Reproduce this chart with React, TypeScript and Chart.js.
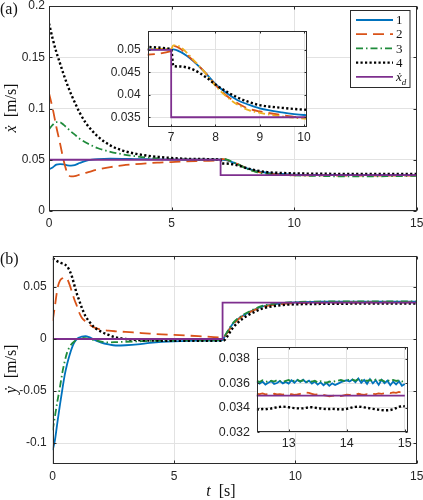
import React, { useEffect, useRef } from 'react';
import { Chart, registerables } from 'chart.js';

Chart.register(...registerables);

// ---------------- DATA ----------------
const seriesLabels = ['1', '2', '3', '4', 'ẋ_d'];

// (a) x-velocity
const tA = [0, 0.15, 0.3, 0.45, 0.6, 0.75, 0.9, 1.05, 1.25, 1.5, 1.75, 2, 2.5, 3, 3.5, 4, 4.5, 5, 6, 7, 7.05, 7.2, 7.35, 7.5, 7.65, 7.8, 8, 8.25, 8.5, 8.75, 9, 9.5, 10, 11, 12, 13, 14, 15];
const xd1 = [0.0407, 0.0425, 0.0452, 0.0458, 0.0455, 0.0446, 0.0443, 0.0447, 0.0468, 0.0490, 0.0502, 0.0507, 0.0510, 0.0509, 0.0507, 0.0505, 0.0503, 0.0502, 0.0501, 0.0501, 0.0501, 0.0496, 0.0487, 0.0475, 0.0461, 0.0446, 0.0424, 0.0404, 0.0388, 0.0378, 0.0370, 0.0361, 0.0355, 0.0352, 0.0351, 0.0350, 0.0350, 0.0349];
const xd2 = [0.1150, 0.1000, 0.0820, 0.0660, 0.0490, 0.0370, 0.0338, 0.0340, 0.0355, 0.0372, 0.0390, 0.0405, 0.0428, 0.0445, 0.0457, 0.0466, 0.0472, 0.0477, 0.0488, 0.0497, 0.0509, 0.0503, 0.0490, 0.0476, 0.0462, 0.0446, 0.0422, 0.0398, 0.0381, 0.0369, 0.0363, 0.0355, 0.0349, 0.0347, 0.0346, 0.0346, 0.0346, 0.0346];
const xd3 = [0.0797, 0.0840, 0.0868, 0.0866, 0.0840, 0.0808, 0.0775, 0.0745, 0.0705, 0.0668, 0.0638, 0.0612, 0.0578, 0.0553, 0.0535, 0.0521, 0.0512, 0.0506, 0.0502, 0.0502, 0.0510, 0.0507, 0.0494, 0.0478, 0.0462, 0.0445, 0.0420, 0.0396, 0.0378, 0.0366, 0.0360, 0.0352, 0.0347, 0.0342, 0.0338, 0.0338, 0.0340, 0.0343];
const xd4 = [0.1830, 0.1680, 0.1550, 0.1440, 0.1330, 0.1230, 0.1140, 0.1060, 0.0960, 0.0860, 0.0785, 0.0725, 0.0640, 0.0590, 0.0560, 0.0540, 0.0527, 0.0517, 0.0507, 0.0502, 0.0464, 0.0463, 0.0461, 0.0456, 0.0448, 0.0438, 0.0423, 0.0407, 0.0394, 0.0384, 0.0377, 0.0371, 0.0367, 0.0364, 0.0362, 0.0362, 0.0361, 0.0361];
const xRefT = [0, 7, 7, 15];
const xRefV = [0.05, 0.05, 0.035, 0.035];

// (b) y-velocity
const tB = [0, 0.1, 0.2, 0.3, 0.4, 0.5, 0.6, 0.7, 0.8, 0.9, 1.0, 1.1, 1.2, 1.35, 1.5, 1.7, 2, 2.3, 2.6, 3, 3.5, 4, 4.5, 5, 6, 6.98, 7.1, 7.25, 7.4, 7.6, 7.8, 8, 8.3, 8.6, 9, 9.5, 10, 11, 12, 13, 14, 15];
const yd1 = [-0.1068, -0.0960, -0.0790, -0.0630, -0.0480, -0.0340, -0.0235, -0.0150, -0.0080, -0.0030, 0.0000, 0.0015, 0.0024, 0.0027, 0.0018, -0.0005, -0.0035, -0.0052, -0.0062, -0.0060, -0.0052, -0.0038, -0.0028, -0.0022, -0.0016, -0.0012, 0.0030, 0.0085, 0.0140, 0.0185, 0.0218, 0.0245, 0.0280, 0.0310, 0.0330, 0.0345, 0.0352, 0.0358, 0.0360, 0.0360, 0.0360, 0.0360];
const yd2 = [0.0175, 0.0330, 0.0490, 0.0560, 0.0583, 0.0590, 0.0575, 0.0520, 0.0445, 0.0375, 0.0315, 0.0250, 0.0205, 0.0170, 0.0140, 0.0112, 0.0090, 0.0080, 0.0074, 0.0068, 0.0060, 0.0052, 0.0045, 0.0039, 0.0028, 0.0016, 0.0030, 0.0080, 0.0130, 0.0180, 0.0215, 0.0243, 0.0278, 0.0305, 0.0325, 0.0337, 0.0343, 0.0348, 0.0350, 0.0351, 0.0351, 0.0352];
const yd3 = [-0.0876, -0.0730, -0.0590, -0.0460, -0.0320, -0.0210, -0.0125, -0.0075, -0.0042, -0.0022, -0.0005, 0.0005, 0.0010, 0.0009, 0.0002, -0.0010, -0.0025, -0.0032, -0.0030, -0.0026, -0.0022, -0.0018, -0.0015, -0.0014, -0.0012, -0.0010, 0.0035, 0.0090, 0.0145, 0.0192, 0.0225, 0.0252, 0.0287, 0.0315, 0.0335, 0.0348, 0.0355, 0.0360, 0.0361, 0.0362, 0.0362, 0.0362];
const yd4 = [0.0774, 0.0760, 0.0745, 0.0735, 0.0725, 0.0715, 0.0695, 0.0655, 0.0595, 0.0510, 0.0430, 0.0366, 0.0300, 0.0220, 0.0169, 0.0115, 0.0070, 0.0040, 0.0016, 0.0000, -0.0010, -0.0014, -0.0016, -0.0017, -0.0018, -0.0018, -0.0005, 0.0045, 0.0100, 0.0150, 0.0190, 0.0222, 0.0258, 0.0290, 0.0312, 0.0327, 0.0333, 0.0337, 0.0339, 0.0340, 0.0340, 0.0341];
const yRefT = [0, 7, 7, 15];
const yRefV = [0, 0, 0.035, 0.035];

// (b) inset, steady state detail
const tF = [12.45, 12.5, 12.55, 12.6, 12.65, 12.7, 12.75, 12.8, 12.85, 12.9, 12.95, 13, 13.05, 13.1, 13.15, 13.2, 13.25, 13.3, 13.35, 13.4, 13.45, 13.5, 13.55, 13.6, 13.65, 13.7, 13.75, 13.8, 13.85, 13.9, 13.95, 14, 14.05, 14.1, 14.15, 14.2, 14.25, 14.3, 14.35, 14.4, 14.45, 14.5, 14.55, 14.6, 14.65, 14.7, 14.75, 14.8, 14.85, 14.9, 14.95, 15];
const ydF1 = [0.03612, 0.03598, 0.03615, 0.03590, 0.03605, 0.03618, 0.03596, 0.03603, 0.03620, 0.03600, 0.03612, 0.03598, 0.03625, 0.03605, 0.03628, 0.03612, 0.03630, 0.03608, 0.03622, 0.03598, 0.03615, 0.03590, 0.03608, 0.03585, 0.03605, 0.03580, 0.03600, 0.03586, 0.03598, 0.03610, 0.03618, 0.03625, 0.03615, 0.03632, 0.03610, 0.03640, 0.03605, 0.03628, 0.03596, 0.03635, 0.03600, 0.03626, 0.03588, 0.03630, 0.03602, 0.03622, 0.03585, 0.03615, 0.03592, 0.03618, 0.03580, 0.03595];
const ydF2 = [0.03515, 0.03512, 0.03518, 0.03510, 0.03512, 0.03508, 0.03515, 0.03510, 0.03512, 0.03508, 0.03514, 0.03510, 0.03512, 0.03506, 0.03510, 0.03515, 0.03520, 0.03525, 0.03522, 0.03515, 0.03508, 0.03510, 0.03512, 0.03505, 0.03500, 0.03495, 0.03498, 0.03502, 0.03500, 0.03496, 0.03502, 0.03508, 0.03505, 0.03512, 0.03508, 0.03515, 0.03510, 0.03506, 0.03512, 0.03508, 0.03515, 0.03512, 0.03518, 0.03515, 0.03520, 0.03524, 0.03520, 0.03526, 0.03522, 0.03530, 0.03525, 0.03520];
const ydF3 = [0.03620, 0.03612, 0.03625, 0.03618, 0.03610, 0.03622, 0.03615, 0.03626, 0.03618, 0.03612, 0.03620, 0.03628, 0.03615, 0.03622, 0.03630, 0.03618, 0.03625, 0.03612, 0.03620, 0.03615, 0.03622, 0.03608, 0.03618, 0.03612, 0.03605, 0.03615, 0.03610, 0.03618, 0.03622, 0.03628, 0.03620, 0.03632, 0.03625, 0.03630, 0.03622, 0.03635, 0.03626, 0.03630, 0.03620, 0.03628, 0.03618, 0.03632, 0.03622, 0.03628, 0.03615, 0.03625, 0.03618, 0.03628, 0.03620, 0.03626, 0.03615, 0.03622];
const ydF4 = [0.03388, 0.03386, 0.03390, 0.03388, 0.03392, 0.03395, 0.03400, 0.03405, 0.03408, 0.03410, 0.03408, 0.03405, 0.03400, 0.03398, 0.03396, 0.03395, 0.03396, 0.03400, 0.03404, 0.03405, 0.03402, 0.03398, 0.03395, 0.03392, 0.03390, 0.03390, 0.03392, 0.03390, 0.03388, 0.03386, 0.03388, 0.03392, 0.03398, 0.03404, 0.03408, 0.03410, 0.03408, 0.03404, 0.03400, 0.03396, 0.03392, 0.03388, 0.03385, 0.03382, 0.03380, 0.03380, 0.03382, 0.03388, 0.03398, 0.03408, 0.03415, 0.03412];

// ticks
const ticksAx = [0, 5, 10, 15];
const ticksAy = [0, 0.05, 0.1, 0.15, 0.2];
const ticksIAx = [7, 8, 9, 10];
const ticksIAy = [0.035, 0.04, 0.045, 0.05];
const ticksBx = [0, 5, 10, 15];
const ticksBy = [-0.1, -0.05, 0, 0.05];
const ticksIBx = [13, 14, 15];
const ticksIBy = [0.032, 0.034, 0.036, 0.038];

// ---------------- STYLE ----------------
const SERIF = "'Liberation Serif','DejaVu Serif',serif";
const SANS = "'Liberation Sans',Arial,Helvetica,sans-serif";
const AXIS = '#2b2b2b';
const GRID = '#e2e2e2';
const TICK = '#262626';
const COLORS = ['#0072BD', '#D95319', '#1F8B3B', '#000000', '#7E2F8E'];
const DASHES = [[], [11, 6], [7, 3, 1.5, 3], [2.2, 2.3], []];
const WIDTHS = [1.8, 1.8, 1.8, 2.4, 1.8];

function ds(ts: number[], vs: number[], i: number, extra: any = {}) {
  const smooth = i !== 4 && !extra.noSmooth;
  const { noSmooth, ...rest } = extra;
  return {
    label: seriesLabels[i],
    data: ts.map((t, k) => ({ x: t, y: vs[k] })),
    borderColor: COLORS[i],
    borderDash: DASHES[i],
    borderWidth: WIDTHS[i],
    pointRadius: 0,
    fill: false,
    tension: 0,
    cubicInterpolationMode: smooth ? 'monotone' : 'default',
    order: 4 - i,
    ...rest,
  };
}

type Part = { t: string; it?: boolean; sub?: boolean };
function drawParts(ctx: CanvasRenderingContext2D, parts: Part[], x: number, y: number, size: number, align: 'left' | 'center', rot = 0) {
  ctx.save();
  ctx.translate(x, y);
  if (rot) ctx.rotate(rot);
  const fontOf = (p: Part) => `${p.it ? 'italic ' : ''}${p.sub ? Math.round(size * 0.72) : size}px ${SERIF}`;
  let w = 0;
  for (const p of parts) { ctx.font = fontOf(p); w += ctx.measureText(p.t).width; }
  let cx = align === 'center' ? -w / 2 : 0;
  ctx.textAlign = 'left';
  ctx.textBaseline = 'alphabetic';
  ctx.fillStyle = '#111';
  for (const p of parts) {
    ctx.font = fontOf(p);
    ctx.fillText(p.t, cx, p.sub ? size * 0.28 : 0);
    cx += ctx.measureText(p.t).width;
  }
  ctx.restore();
}

function labelParts(label: string): Part[] {
  if (label.includes('_')) {
    const [a, b] = label.split('_');
    return [{ t: a, it: true }, { t: b, it: true, sub: true }];
  }
  return [{ t: label }];
}

const whitePlugin = {
  id: 'whiteArea',
  beforeDraw(chart: any) {
    const { ctx, chartArea: a } = chart;
    ctx.save();
    ctx.fillStyle = '#ffffff';
    ctx.fillRect(a.left, a.top, a.right - a.left, a.bottom - a.top);
    ctx.restore();
  },
};

function framePlugin(len: number) {
  return {
    id: 'frame',
    afterDraw(chart: any) {
      const { ctx, chartArea: a, scales } = chart;
      const L = Math.round(a.left) + 0.5, R = Math.round(a.right) - 0.5;
      const T = Math.round(a.top) + 0.5, B = Math.round(a.bottom) - 0.5;
      ctx.save();
      ctx.strokeStyle = AXIS;
      ctx.lineWidth = 1;
      ctx.setLineDash([]);
      ctx.beginPath();
      for (const t of scales.x.ticks) {
        const px = Math.round(scales.x.getPixelForValue(t.value)) + 0.5;
        ctx.moveTo(px, B); ctx.lineTo(px, B - len);
        ctx.moveTo(px, T); ctx.lineTo(px, T + len);
      }
      for (const t of scales.y.ticks) {
        const py = Math.round(scales.y.getPixelForValue(t.value)) + 0.5;
        ctx.moveTo(L, py); ctx.lineTo(L + len, py);
        ctx.moveTo(R, py); ctx.lineTo(R - len, py);
      }
      ctx.stroke();
      ctx.strokeRect(L, T, R - L, B - T);
      ctx.restore();
    },
  };
}

const legendPlugin = {
  id: 'legendBox',
  afterDraw(chart: any) {
    const { ctx } = chart;
    const x0 = 350.5, y0 = 10.5, w = 59.5, h = 77;
    ctx.save();
    ctx.fillStyle = '#fff';
    ctx.fillRect(x0, y0, w, h);
    ctx.strokeStyle = AXIS;
    ctx.lineWidth = 1;
    ctx.setLineDash([]);
    ctx.strokeRect(x0, y0, w, h);
    chart.data.datasets.forEach((d: any, i: number) => {
      const yy = 20 + i * 14.2;
      ctx.save();
      ctx.strokeStyle = d.borderColor;
      ctx.lineWidth = d.borderWidth;
      ctx.setLineDash(d.borderDash || []);
      ctx.beginPath();
      ctx.moveTo(356, yy);
      ctx.lineTo(393, yy);
      ctx.stroke();
      ctx.restore();
      drawParts(ctx, labelParts(d.label), 396, yy + 4.2, 13, 'left');
    });
    ctx.restore();
  },
};

function textPlugin(fn: (ctx: CanvasRenderingContext2D) => void) {
  return { id: 'texts', afterDraw(chart: any) { fn(chart.ctx); } };
}

interface Box {
  xMin: number; xMax: number; yMin: number; yMax: number;
  xTicks: number[]; yTicks: number[];
  yW: number; xH: number; padTop: number; padRight: number;
  fs: number; xPad: number; yPad: number; tick: number;
}

function makeConfig(box: Box, datasets: any[], extra: any[], inset: boolean): any {
  const tickFont = { family: SANS, size: box.fs };
  return {
    type: 'line',
    data: { datasets },
    options: {
      animation: false,
      responsive: false,
      devicePixelRatio: 1,
      events: [],
      layout: { padding: { left: 0, top: box.padTop, right: box.padRight, bottom: 0 }, autoPadding: false },
      plugins: { legend: { display: false }, tooltip: { enabled: false }, title: { display: false } },
      elements: { point: { radius: 0 }, line: { borderCapStyle: 'butt', capBezierPoints: true } },
      scales: {
        x: {
          type: 'linear',
          min: box.xMin,
          max: box.xMax,
          afterBuildTicks: (s: any) => { s.ticks = box.xTicks.map((v) => ({ value: v })); },
          afterFit: (s: any) => { s.height = box.xH; s.paddingLeft = 0; s.paddingRight = 0; s.paddingTop = 0; s.paddingBottom = 0; },
          grid: { color: GRID, drawTicks: false, lineWidth: 1 },
          border: { display: false },
          ticks: { padding: box.xPad, color: TICK, font: tickFont, maxRotation: 0, autoSkip: false, callback: (v: any) => String(v) },
        },
        y: {
          type: 'linear',
          min: box.yMin,
          max: box.yMax,
          afterBuildTicks: (s: any) => { s.ticks = box.yTicks.map((v) => ({ value: v })); },
          afterFit: (s: any) => { s.width = box.yW; s.paddingTop = 0; s.paddingBottom = 0; s.paddingLeft = 0; s.paddingRight = 0; },
          grid: { color: GRID, drawTicks: false, lineWidth: 1 },
          border: { display: false },
          ticks: { padding: box.yPad, color: TICK, font: tickFont, autoSkip: false, callback: (v: any) => String(v) },
        },
      },
    },
    plugins: [...(inset ? [whitePlugin] : []), framePlugin(box.tick), ...extra],
  };
}

function cfgMainA() {
  const datasets = [
    ds(tA, xd1, 0), ds(tA, xd2, 1), ds(tA, xd3, 2), ds(tA, xd4, 3), ds(xRefT, xRefV, 4),
  ];
  const box: Box = { xMin: 0, xMax: 15, yMin: 0, yMax: 0.2, xTicks: ticksAx, yTicks: ticksAy, yW: 49, xH: 39, padTop: 6, padRight: 6.3, fs: 12, xPad: 5, yPad: 4, tick: 3 };
  const texts = textPlugin((ctx) => {
    drawParts(ctx, [{ t: '(a)' }], 0, 14, 16, 'left');
    drawParts(ctx, [{ t: 'ẋ', it: true }, { t: '  [m/s]' }], 16, 108, 16, 'center', -Math.PI / 2);
  });
  return makeConfig(box, datasets, [legendPlugin, texts], false);
}

function cfgInsetA() {
  const datasets = [
    ds(tA, xd1, 0), ds(tA, xd2, 1), ds(tA, xd3, 2, { borderColor: '#EDB120' }), ds(tA, xd4, 3), ds(xRefT, xRefV, 4),
  ];
  const box: Box = { xMin: 6.47, xMax: 10.06, yMin: 0.0329, yMax: 0.0542, xTicks: ticksIAx, yTicks: ticksIAy, yW: 47.7, xH: 23.3, padTop: 6, padRight: 13.3, fs: 12, xPad: 4, yPad: 7, tick: 2 };
  return makeConfig(box, datasets, [], true);
}

function cfgMainB() {
  const datasets = [
    ds(tB, yd1, 0), ds(tB, yd2, 1), ds(tB, yd3, 2), ds(tB, yd4, 3), ds(yRefT, yRefV, 4),
  ];
  const box: Box = { xMin: 0, xMax: 15, yMin: -0.12, yMax: 0.08, xTicks: ticksBx, yTicks: ticksBy, yW: 52.7, xH: 36, padTop: 5.7, padRight: 6.3, fs: 12, xPad: 5, yPad: 6, tick: 3 };
  const texts = textPlugin((ctx) => {
    drawParts(ctx, [{ t: '(b)' }], 0, 14, 16, 'left');
    drawParts(ctx, [{ t: 'ẏ', it: true }, { t: '  [m/s]' }], 16, 119, 16, 'center', -Math.PI / 2);
    drawParts(ctx, [{ t: 't', it: true }, { t: '  [s]' }], 221, 246, 16, 'center');
  });
  return makeConfig(box, datasets, [texts], false);
}

function cfgInsetB() {
  const datasets = [
    ds(tF, ydF1, 0, { noSmooth: true }), ds(tF, ydF2, 1, { noSmooth: true }), ds(tF, ydF3, 2, { noSmooth: true }), ds(tF, ydF4, 3, { noSmooth: true }), ds(yRefT, yRefV, 4),
  ];
  const box: Box = { xMin: 12.45, xMax: 15.06, yMin: 0.032, yMax: 0.039, xTicks: ticksIBx, yTicks: ticksIBy, yW: 56.7, xH: 22.7, padTop: 6.7, padRight: 11.7, fs: 12.5, xPad: 4, yPad: 6.7, tick: 2 };
  return makeConfig(box, datasets, [], true);
}

export default function App() {
  const rA = useRef<HTMLCanvasElement>(null);
  const rIA = useRef<HTMLCanvasElement>(null);
  const rB = useRef<HTMLCanvasElement>(null);
  const rIB = useRef<HTMLCanvasElement>(null);

  useEffect(() => {
    const charts = [
      new Chart(rA.current as HTMLCanvasElement, cfgMainA()),
      new Chart(rB.current as HTMLCanvasElement, cfgMainB()),
      new Chart(rIA.current as HTMLCanvasElement, cfgInsetA()),
      new Chart(rIB.current as HTMLCanvasElement, cfgInsetB()),
    ];
    return () => charts.forEach((c) => c.destroy());
  }, []);

  const abs = (l: number, t: number, w: number, h: number): React.CSSProperties => ({ position: 'absolute', left: l, top: t, width: w, height: h, display: 'block' });

  return (
    <div style={{ position: 'absolute', left: 0, top: 0, width: 423, height: 500, background: '#ffffff', overflow: 'hidden' }}>
      <canvas ref={rA} width={423} height={250} style={abs(0, 0, 423, 250)} />
      <canvas ref={rB} width={423} height={250} style={abs(0, 250, 423, 250)} />
      <canvas ref={rIA} width={220} height={125} style={abs(100, 25, 220, 125)} />
      <canvas ref={rIB} width={220} height={115} style={abs(200, 340, 220, 115)} />
    </div>
  );
}
